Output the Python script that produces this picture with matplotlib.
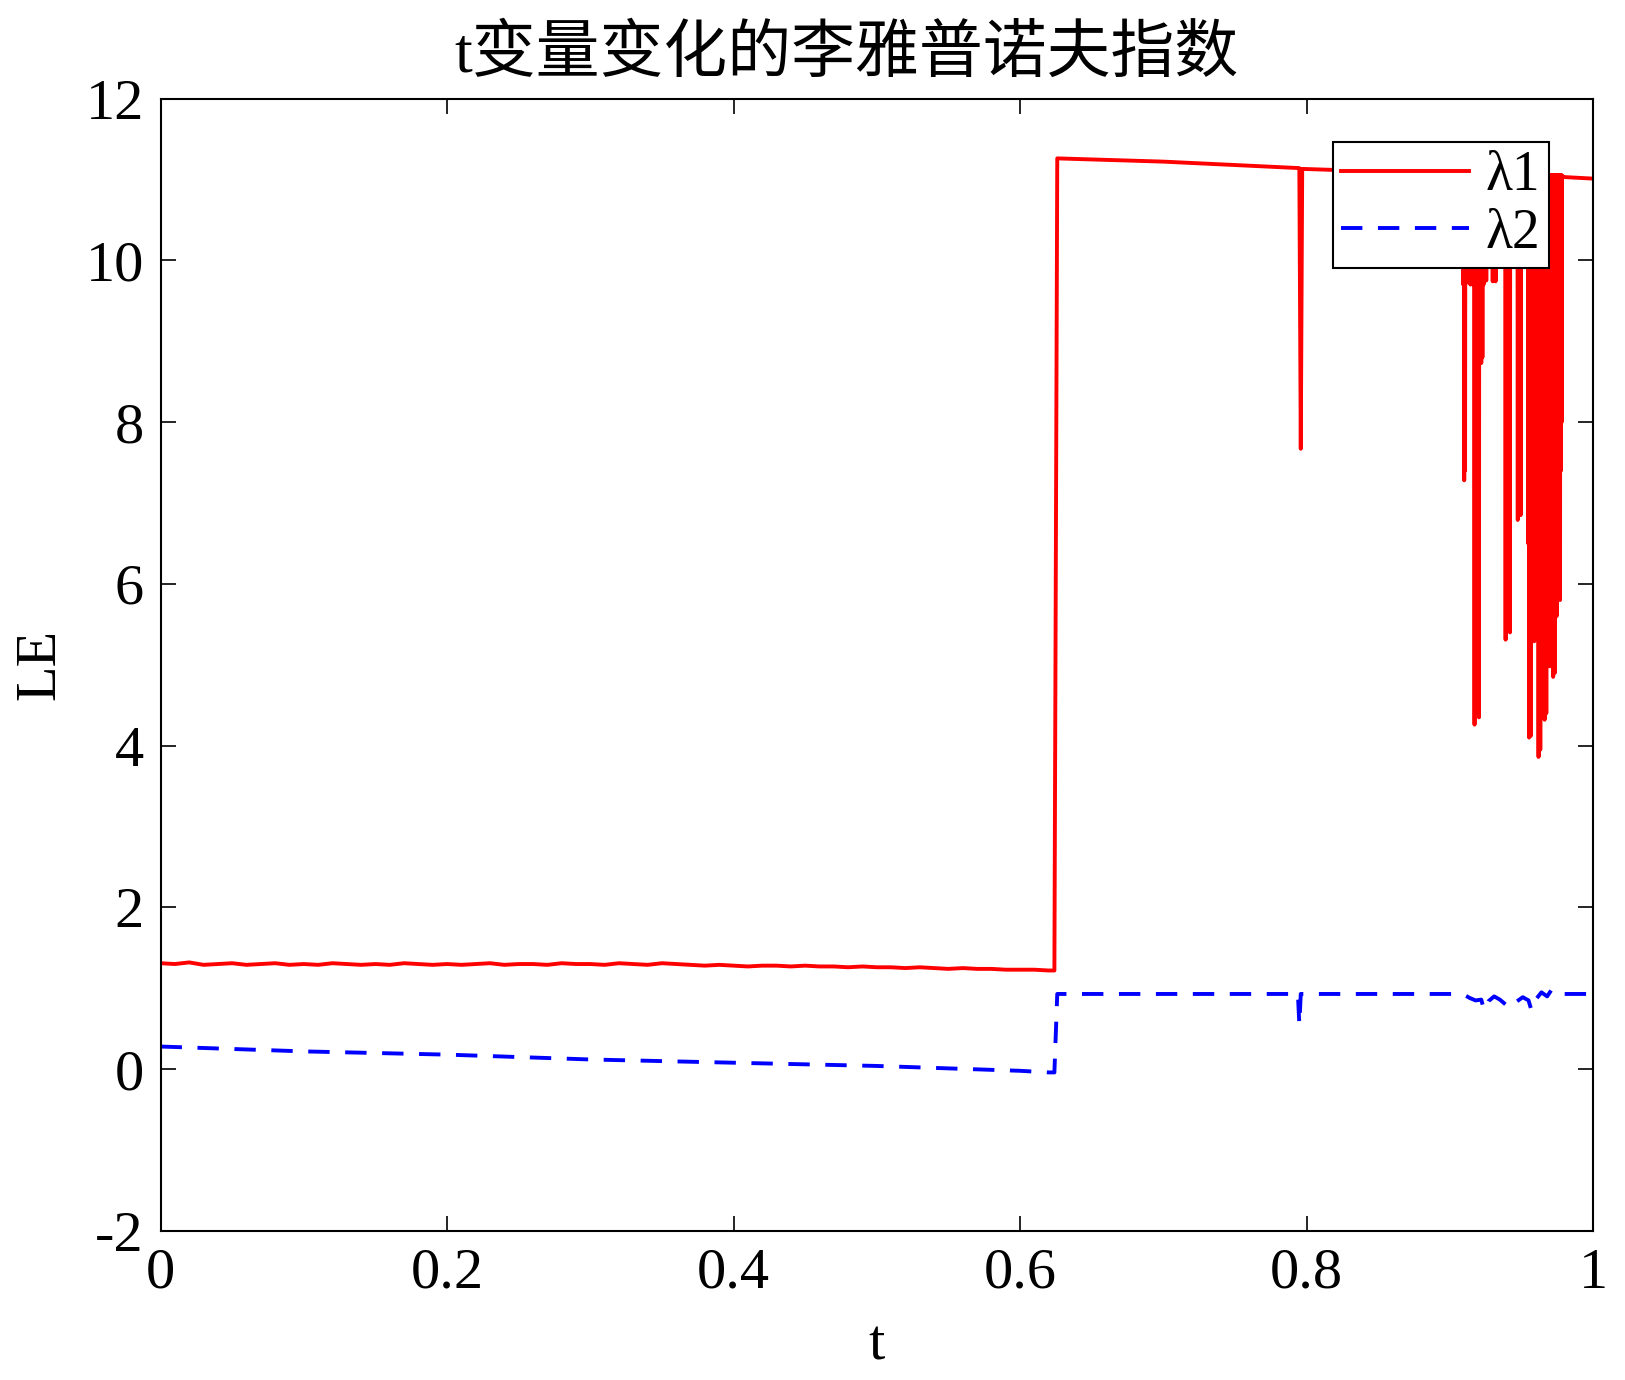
import numpy as np
import matplotlib
matplotlib.use("Agg")
import matplotlib.pyplot as plt

# ==================================================
# Data
# ==================================================
# lambda1 : slow noisy plateau before the jump (t = 0 .. 0.62, step 0.01)
t_low = [0.00, 0.01, 0.02, 0.03, 0.04, 0.05, 0.06, 0.07, 0.08, 0.09,
         0.10, 0.11, 0.12, 0.13, 0.14, 0.15, 0.16, 0.17, 0.18, 0.19,
         0.20, 0.21, 0.22, 0.23, 0.24, 0.25, 0.26, 0.27, 0.28, 0.29,
         0.30, 0.31, 0.32, 0.33, 0.34, 0.35, 0.36, 0.37, 0.38, 0.39,
         0.40, 0.41, 0.42, 0.43, 0.44, 0.45, 0.46, 0.47, 0.48, 0.49,
         0.50, 0.51, 0.52, 0.53, 0.54, 0.55, 0.56, 0.57, 0.58, 0.59,
         0.60, 0.61, 0.62]
le1_low = [1.31, 1.30, 1.32, 1.29, 1.30, 1.31, 1.29, 1.30, 1.31, 1.29,
           1.30, 1.29, 1.31, 1.30, 1.29, 1.30, 1.29, 1.31, 1.30, 1.29,
           1.30, 1.29, 1.30, 1.31, 1.29, 1.30, 1.30, 1.29, 1.31, 1.30,
           1.30, 1.29, 1.31, 1.30, 1.29, 1.31, 1.30, 1.29, 1.28, 1.29,
           1.28, 1.27, 1.28, 1.28, 1.27, 1.28, 1.27, 1.27, 1.26, 1.27,
           1.26, 1.26, 1.25, 1.26, 1.25, 1.24, 1.25, 1.24, 1.24, 1.23,
           1.23, 1.23, 1.22]

# lambda1 : high plateau after the jump, with the single dip near t = 0.796
t_high = [0.624, 0.626, 0.70, 0.795, 0.796, 0.797, 0.85, 0.909]
le1_high = [1.22, 11.26, 11.22, 11.14, 7.67, 11.13, 11.10, 11.07]

# lambda1 : downward spikes between t = 0.909 and 0.979 (each returns to the plateau)
spike_t = [0.9094, 0.9101, 0.9107, 0.9113, 0.9120, 0.9128, 0.9136, 0.9145,
           0.9155, 0.9165, 0.9173, 0.9180, 0.9188, 0.9196, 0.9204, 0.9212,
           0.9220, 0.9228, 0.9236, 0.9245, 0.9255, 0.9280, 0.9290, 0.9300,
           0.9310, 0.9320, 0.9390, 0.9400, 0.9410, 0.9420, 0.9475, 0.9485,
           0.9495, 0.9548, 0.9554, 0.9560, 0.9566, 0.9572, 0.9578, 0.9584,
           0.9590, 0.9596, 0.9602, 0.9608, 0.9614, 0.9620, 0.9626, 0.9632,
           0.9638, 0.9644, 0.9650, 0.9656, 0.9662, 0.9668, 0.9674, 0.9680,
           0.9686, 0.9692, 0.9698, 0.9704, 0.9710, 0.9716, 0.9722, 0.9728,
           0.9734, 0.9740, 0.9746, 0.9752, 0.9758, 0.9764, 0.9770, 0.9776,
           0.9782]
spike_le = [9.70, 7.28, 7.40, 9.72, 9.75, 9.80, 9.72, 9.70,
            9.75, 9.70, 4.26, 4.40, 9.70, 9.75, 4.35, 9.70,
            8.73, 8.80, 9.70, 9.80, 9.75, 9.92, 9.95, 9.74,
            9.80, 9.74, 5.31, 5.50, 7.00, 5.40, 6.79, 7.20,
            6.85, 6.50, 4.10, 4.40, 4.12, 6.80, 7.20, 6.00,
            5.29, 5.40, 7.50, 5.60, 6.20, 3.86, 4.20, 3.95,
            6.80, 5.90, 7.00, 6.40, 4.32, 4.60, 4.40, 7.40,
            6.10, 6.60, 4.98, 5.20, 7.60, 6.30, 4.85, 5.00,
            4.90, 6.90, 5.60, 7.30, 6.00, 7.10, 5.80, 7.40,
            8.00]
spike_top = 11.05
t_end = [0.979, 1.00]
le1_end = [11.03, 11.01]

# lambda2 : dashed series
t_2 = [0.00, 0.05, 0.10, 0.15, 0.20, 0.25, 0.30, 0.35, 0.40, 0.45,
       0.50, 0.55, 0.60, 0.620, 0.624, 0.626, 0.70, 0.794, 0.795, 0.796,
       0.797, 0.85, 0.909, 0.914, 0.918, 0.922, 0.924, 0.927, 0.931, 0.935,
       0.939, 0.943, 0.947, 0.951, 0.955, 0.957, 0.960, 0.964, 0.968, 0.971,
       0.974, 0.978, 1.00]
le_2 = [0.28, 0.25, 0.22, 0.20, 0.18, 0.15, 0.12, 0.10, 0.08, 0.06,
        0.04, 0.01, -0.02, -0.04, -0.04, 0.93, 0.93, 0.93, 0.55, 0.93,
        0.93, 0.93, 0.93, 0.88, 0.85, 0.86, 0.73, 0.84, 0.90, 0.86,
        0.80, 0.88, 0.84, 0.89, 0.85, 0.73, 0.86, 0.95, 0.90, 0.98,
        0.93, 0.93, 0.93]

title = "t变量变化的李雅普诺夫指数"
xticks = [0, 0.2, 0.4, 0.6, 0.8, 1]
xtick_labels = ["0", "0.2", "0.4", "0.6", "0.8", "1"]
yticks = [-2, 0, 2, 4, 6, 8, 10, 12]

# build lambda1 from its pieces (spikes go down and come back to the plateau)
spike_t = np.array(spike_t)
sp_t = np.column_stack([spike_t - 0.0002, spike_t, spike_t + 0.0002]).ravel()
sp_v = np.column_stack([np.full(len(spike_le), spike_top), spike_le,
                        np.full(len(spike_le), spike_top)]).ravel()
t_1 = np.concatenate([t_low, t_high, sp_t, t_end])
le_1 = np.concatenate([le1_low, le1_high, sp_v, le1_end])

# ==================================================
# Plot
# ==================================================
plt.rcParams['font.family'] = ['Liberation Serif', 'Noto Sans CJK SC']
plt.rcParams['axes.unicode_minus'] = False

fig = plt.figure(figsize=(16.25, 13.8), dpi=100)
ax = fig.add_axes([0.0988, 0.108, 0.8815, 0.8206])

ax.plot(t_1, le_1, color=(1, 0, 0), linewidth=2.8, label='λ1')
ax.plot(t_2, le_2, color=(0, 0, 1), linewidth=2.8, linestyle=(0, (5.5, 4)), label='λ2')

ax.set_xlim(0, 1)
ax.set_ylim(-2, 12)
ax.set_xticks(xticks)
ax.set_xticklabels(xtick_labels)
ax.set_yticks(yticks)
ax.tick_params(direction='in', length=11, width=1.2, labelsize=42,
               top=True, right=True, pad=12)
for s in ax.spines.values():
    s.set_linewidth(1.5)

ax.set_xlabel("t", fontsize=42, labelpad=14)
ax.set_ylabel("LE", fontsize=42, labelpad=14)

fig.text(0.521, 0.959, title, fontsize=46, ha='center', va='center',
         family=['Liberation Serif', 'Noto Sans CJK SC'])

leg = ax.legend(loc='upper right', bbox_to_anchor=(0.9693, 0.9616),
                borderaxespad=0, fontsize=40, fancybox=False, framealpha=1,
                edgecolor='black', handlelength=2.3, handletextpad=0.3,
                borderpad=0.15, labelspacing=0.1)
leg.get_frame().set_linewidth(1.5)

plt.savefig("out.png", dpi=100)
